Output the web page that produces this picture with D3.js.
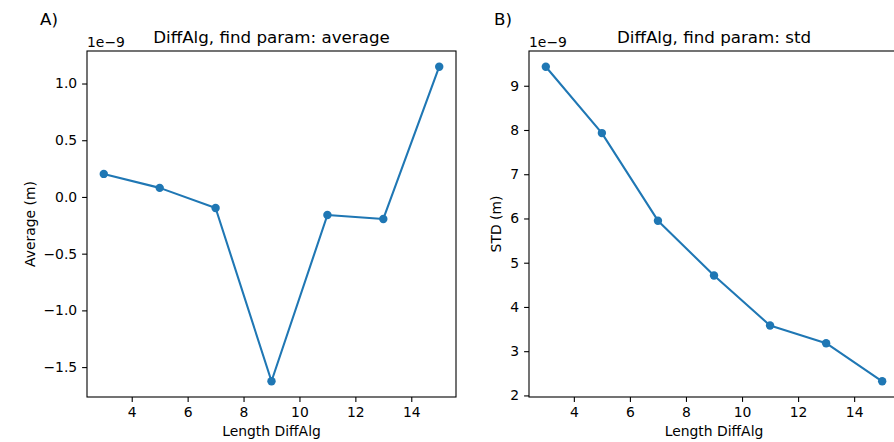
<!DOCTYPE html>
<meta charset="utf-8">
<head>
    <title>DiffAlg, find param</title>
    <style>
        body { margin: 0; background: #fff; }
        svg text { font-family: "DejaVu Sans", sans-serif; fill: #000; }
    </style>
</head>
<body>
<script src="https://d3js.org/d3.v7.min.js"></script>
<svg id="fig" width="894" height="442"></svg>

<script>
    // values are in units of 1e-9 m (matplotlib offset text "1e−9")
    var lengths = [3, 5, 7, 9, 11, 13, 15];
    var averages = [0.203, 0.080, -0.097, -1.625, -0.159, -0.194, 1.148];
    var stds = [9.43, 7.93, 5.95, 4.71, 3.58, 3.18, 2.32];
    var xTicks = [4, 6, 8, 10, 12, 14];
    var avgTicks = [-1.5, -1.0, -0.5, 0.0, 0.5, 1.0];
    var stdTicks = [2, 3, 4, 5, 6, 7, 8, 9];

    var svg = d3.select("#fig"),
        blue = "#1f77b4",
        axTop = 51, axBottom = 397,
        tick = 4.9, pad = 4.9,
        small = 13.9, big = 16.7;

    function panel(opts) {
        var g = svg.append("g");
        var x = d3.scaleLinear().domain([2.4, 15.6]).range([opts.left, opts.right]);
        var yMin = d3.min(opts.values), yMax = d3.max(opts.values),
            m = (yMax - yMin) * 0.05;
        var y = d3.scaleLinear().domain([yMin - m, yMax + m]).range([axBottom, axTop]);

        // x axis
        g.append("g")
            .attr("transform", "translate(0," + axBottom + ")")
            .call(d3.axisBottom(x).tickValues(xTicks).tickSize(tick).tickPadding(pad).tickSizeOuter(0))
            .call(axisStyle);

        // y axis
        g.append("g")
            .attr("transform", "translate(" + opts.left + ",0)")
            .call(d3.axisLeft(y).tickValues(opts.ticks).tickFormat(opts.fmt).tickSize(tick).tickPadding(pad).tickSizeOuter(0))
            .call(axisStyle);

        // frame
        g.append("rect")
            .attr("x", opts.left).attr("y", axTop)
            .attr("width", opts.right - opts.left).attr("height", axBottom - axTop)
            .attr("fill", "none").attr("stroke", "#000").attr("stroke-width", 1.1);

        var line = d3.line()
            .x(function (d, i) { return x(lengths[i]); })
            .y(function (d) { return y(d); });

        g.append("path")
            .datum(opts.values)
            .attr("d", line)
            .attr("fill", "none")
            .attr("stroke", blue)
            .attr("stroke-width", 2.08)
            .attr("stroke-linejoin", "round");

        g.selectAll("circle")
            .data(opts.values)
            .enter().append("circle")
            .attr("cx", function (d, i) { return x(lengths[i]); })
            .attr("cy", function (d) { return y(d); })
            .attr("r", 4.2)
            .attr("fill", blue);

        // texts
        g.append("text")
            .attr("x", (opts.left + opts.right) / 2).attr("y", 43)
            .attr("text-anchor", "middle").style("font-size", big + "px")
            .text(opts.title);
        g.append("text")
            .attr("x", opts.left).attr("y", 47)
            .style("font-size", small + "px")
            .text("1e\u22129");
        g.append("text")
            .attr("x", (opts.left + opts.right) / 2).attr("y", 436)
            .attr("text-anchor", "middle").style("font-size", small + "px")
            .text("Length DiffAlg");
        g.append("text")
            .attr("transform", "translate(" + opts.ylabX + "," + ((axTop + axBottom) / 2) + ") rotate(-90)")
            .attr("text-anchor", "middle").attr("dy", "0.35em")
            .style("font-size", small + "px")
            .text(opts.ylabel);
        g.append("text")
            .attr("x", opts.tagX).attr("y", 25)
            .style("font-size", big + "px")
            .text(opts.tag);
    }

    function axisStyle(sel) {
        sel.select(".domain").remove();
        sel.selectAll("line").attr("stroke", "#000").attr("stroke-width", 1.1);
        sel.selectAll("text").style("font-size", small + "px")
            .style("font-family", "DejaVu Sans, sans-serif").attr("fill", "#000");
    }

    panel({
        left: 87, right: 456, values: averages, ticks: avgTicks,
        fmt: d3.format(".1f"), title: "DiffAlg, find param: average",
        ylabel: "Average (m)", ylabX: 30, tag: "A)", tagX: 40
    });
    panel({
        left: 529, right: 899, values: stds, ticks: stdTicks,
        fmt: d3.format("d"), title: "DiffAlg, find param: std",
        ylabel: "STD (m)", ylabX: 496, tag: "B)", tagX: 494
    });
</script>
</body>
